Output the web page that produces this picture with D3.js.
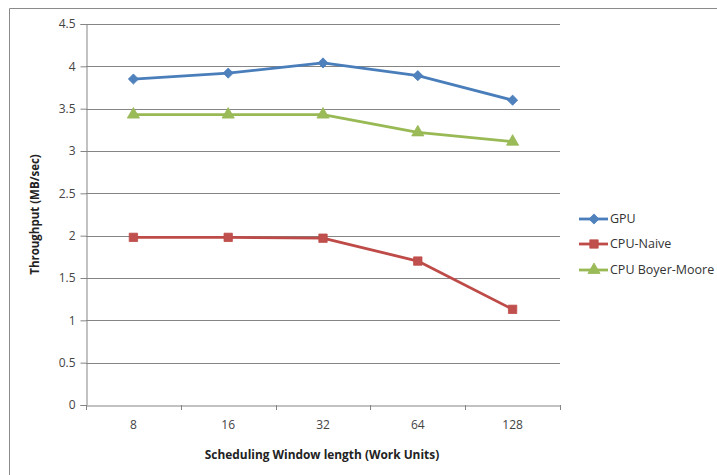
<!DOCTYPE html>
<html><head><meta charset="utf-8">
<script src="https://cdn.jsdelivr.net/npm/d3@7"></script>
<style>body{margin:0;background:#fff;} text{font-family:"Open Sans",sans-serif;}</style>
</head><body>
<svg id="c" width="717" height="475"></svg>
<script>
const categories = ["8","16","32","64","128"];
const gpu = [3.85, 3.92, 4.04, 3.89, 3.60];
const cpuNaive = [1.98, 1.98, 1.97, 1.70, 1.13];
const cpuBoyerMoore = [3.43, 3.43, 3.43, 3.22, 3.11];
const yTicks = [0, 0.5, 1, 1.5, 2, 2.5, 3, 3.5, 4, 4.5];
const seriesNames = ["GPU", "CPU-Naive", "CPU Boyer-Moore"];

const series = [
  {name: seriesNames[0], values: gpu, color: "#4A7EBB", fill: "#4F81BD", shape: "diamond"},
  {name: seriesNames[1], values: cpuNaive, color: "#BE4B48", fill: "#C0504D", shape: "square"},
  {name: seriesNames[2], values: cpuBoyerMoore, color: "#98B954", fill: "#9BBB59", shape: "triangle"}
];

const svg = d3.select("#c");
const L = 86, R = 560, T = 24, B = 405;

// outer border (top and left)
svg.append("line").attr("x1", 9.5).attr("x2", 717).attr("y1", 8.5).attr("y2", 8.5).attr("stroke", "#8a8a8a").attr("stroke-width", 1);
svg.append("line").attr("x1", 9.5).attr("x2", 9.5).attr("y1", 8.5).attr("y2", 475).attr("stroke", "#8a8a8a").attr("stroke-width", 1);

const x = d3.scaleBand().domain(categories).range([L, R]);
const y = d3.scaleLinear().domain([0, 4.5]).range([B, T]);

// gridlines
svg.append("g").selectAll("line").data(yTicks.filter(d => d > 0)).join("line")
  .attr("x1", L).attr("x2", R)
  .attr("y1", d => Math.round(y(d)) + 0.5).attr("y2", d => Math.round(y(d)) + 0.5)
  .attr("stroke", "#858585").attr("stroke-width", 1);

// y axis
const yAxis = svg.append("g").attr("transform", `translate(${L + 0.5},0)`)
  .call(d3.axisLeft(y).tickValues(yTicks).tickSize(6).tickPadding(5).tickFormat(d => String(d)));
yAxis.select(".domain").attr("stroke", "#858585");
yAxis.selectAll(".tick line").attr("stroke", "#858585");
yAxis.selectAll(".tick text").attr("fill", "#444").style("font-size", "12px").style("font-family", "'Open Sans',sans-serif");

// x axis
const xAxis = svg.append("g").attr("transform", `translate(0,${Math.round(B) + 0.5})`)
  .call(d3.axisBottom(x).tickSize(0).tickPadding(15));
xAxis.select(".domain").attr("stroke", "#858585");
xAxis.selectAll(".tick text").attr("fill", "#444").style("font-size", "12px").style("font-family", "'Open Sans',sans-serif");
// x tick marks at band boundaries
const bounds = categories.map(c => x(c)).concat([x(categories[categories.length - 1]) + x.bandwidth()]);
svg.append("g").selectAll("line").data(bounds).join("line")
  .attr("x1", d => Math.round(d) + 0.5).attr("x2", d => Math.round(d) + 0.5)
  .attr("y1", B).attr("y2", B + 5).attr("stroke", "#858585");

// axis titles
svg.append("text").attr("x", (L + R) / 2 - 1).attr("y", 459).attr("text-anchor", "middle")
  .style("font-size", "11.9px").style("font-weight", "bold").attr("fill", "#222")
  .text("Scheduling Window length (Work Units)");
svg.append("text").attr("transform", `translate(39,${(T + B) / 2}) rotate(-90)`).attr("text-anchor", "middle")
  .style("font-size", "11.5px").style("font-weight", "bold").attr("fill", "#222")
  .text("Throughput (MB/sec)");

const cx = c => x(c) + x.bandwidth() / 2;
const symbolFor = s => s === "diamond" ? d3.symbol().type(d3.symbolDiamond2).size(66)
  : s === "square" ? d3.symbol().type(d3.symbolSquare).size(70)
  : d3.symbol().type(d3.symbolTriangle).size(64);

const line = d3.line().x((d, i) => cx(categories[i])).y(d => y(d));

series.forEach(s => {
  svg.append("path").datum(s.values).attr("d", line).attr("fill", "none")
    .attr("stroke", s.color).attr("stroke-width", 2.8).attr("stroke-linejoin", "round");
  svg.append("g").selectAll("path").data(s.values).join("path")
    .attr("d", symbolFor(s.shape)())
    .attr("transform", (d, i) => `translate(${cx(categories[i])},${y(d)})`)
    .attr("fill", s.fill).attr("stroke", s.color).attr("stroke-width", 0.8);
});

// legend
const legY = [219, 244, 270];
series.forEach((s, i) => {
  const g = svg.append("g").attr("transform", `translate(579,${legY[i]})`);
  g.append("line").attr("x1", 0).attr("x2", 29).attr("stroke", s.color).attr("stroke-width", 2.8);
  g.append("path").attr("d", symbolFor(s.shape)()).attr("transform", "translate(15,0)")
    .attr("fill", s.fill).attr("stroke", s.color).attr("stroke-width", 0.8);
  g.append("text").attr("x", 31).attr("y", 0).attr("dy", "0.35em")
    .style("font-size", "12.5px").attr("fill", "#333").text(s.name);
});
</script>
</body></html>
